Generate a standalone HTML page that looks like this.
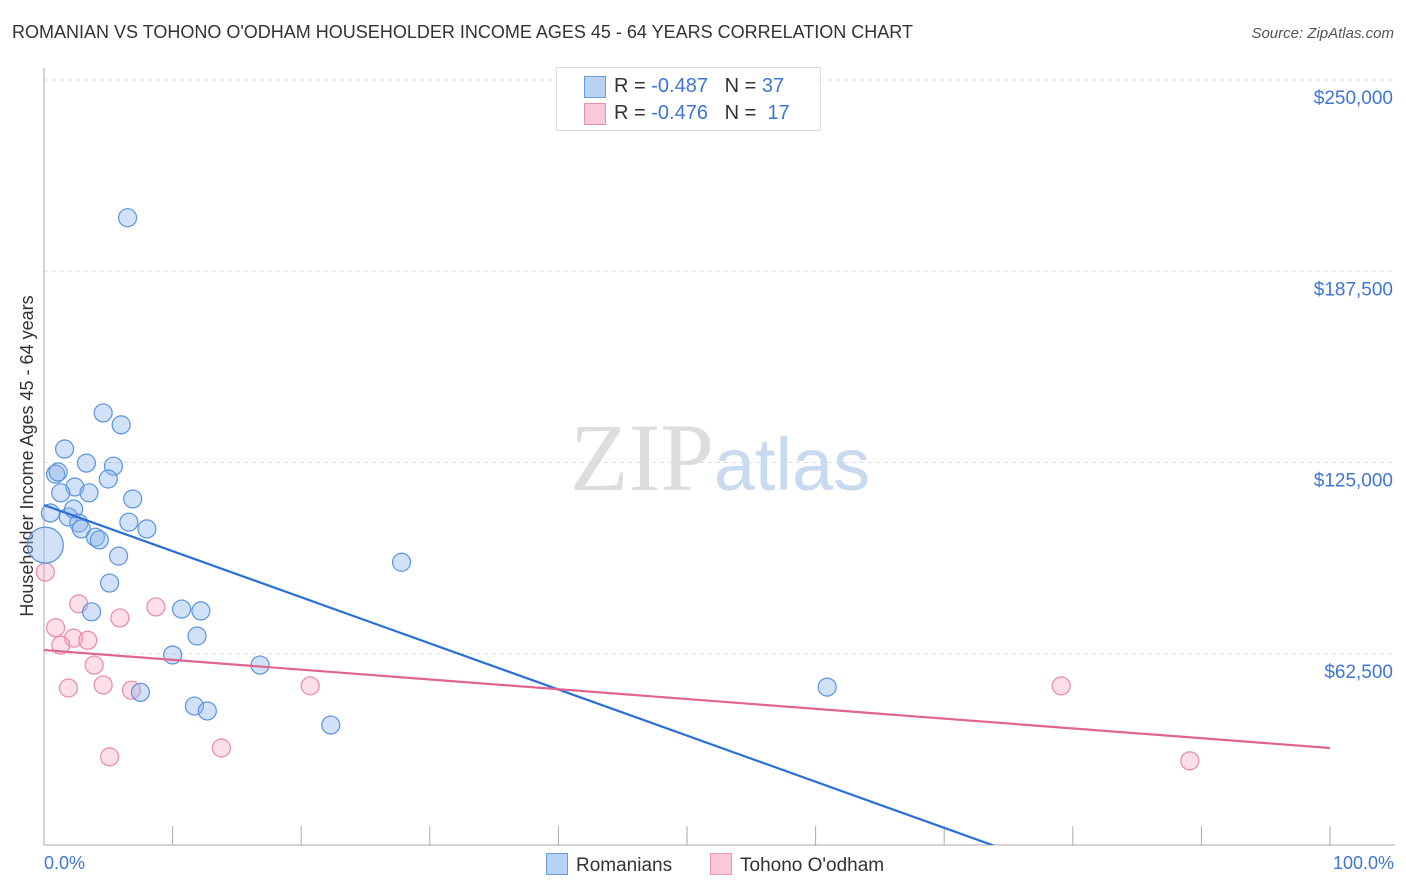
<!DOCTYPE html>
<html><head><meta charset="utf-8"><style>
html,body{margin:0;background:#fff;font-family:"Liberation Sans",sans-serif;width:1406px;height:892px;overflow:hidden;}
#wrap{position:relative;width:1406px;height:892px;overflow:hidden;}
.t{position:absolute;white-space:nowrap;}
</style></head><body>
<div id="wrap">
<div class="t" style="left:12px;top:22px;font-size:18px;color:#333;">ROMANIAN VS TOHONO O'ODHAM HOUSEHOLDER INCOME AGES 45 - 64 YEARS CORRELATION CHART</div>
<div class="t" style="right:12px;top:25px;font-size:15px;color:#555;font-style:italic;">Source: ZipAtlas.com</div>
<svg id="svg" width="1406" height="892" style="position:absolute;left:0;top:0">
<text x="0" y="0" transform="translate(33,456) rotate(-90)" text-anchor="middle" font-size="18" fill="#333" font-family="Liberation Sans, sans-serif">Householder Income Ages 45 - 64 years</text>
</svg>
<div class="t" style="left:44px;top:853px;font-size:18px;color:#3f76d4;">0.0%</div>
<div class="t" style="right:12px;top:853px;font-size:18px;color:#3f76d4;">100.0%</div>
<div style="position:absolute;left:556px;top:67px;width:263px;height:62px;border:1px solid #ddd;background:#fff;font-size:20px;">
 <div style="position:absolute;left:27px;top:8px;width:20px;height:20px;background:#b9d3f5;border:1px solid #6a9be0;"></div>
 <div class="t" style="left:57px;top:7px;color:#333;">R = <span style="color:#3f76d4">-0.487</span> &nbsp; N = <span style="color:#3f76d4">37</span></div>
 <div style="position:absolute;left:27px;top:35px;width:20px;height:20px;background:#f9c9d8;border:1px solid #e892ae;"></div>
 <div class="t" style="left:57px;top:34px;color:#333;">R = <span style="color:#3f76d4">-0.476</span> &nbsp; N = &nbsp;<span style="color:#3f76d4">17</span></div>
</div>
<div style="position:absolute;left:546px;top:853px;font-size:19px;line-height:22px;color:#333;">
 <span style="display:inline-block;width:20px;height:20px;background:#b9d3f5;border:1px solid #6a9be0;vertical-align:-4px;margin-right:8px;"></span>Romanians</div>
<div style="position:absolute;left:710px;top:853px;font-size:19px;line-height:22px;color:#333;">
 <span style="display:inline-block;width:20px;height:20px;background:#f9c9d8;border:1px solid #e892ae;vertical-align:-4px;margin-right:8px;"></span>Tohono O'odham</div>
</div>
<script>
const yTicks=[62500,125000,187500,250000];
const yTickLabels=["$62,500","$125,000","$187,500","$250,000"];
const blueX=[6.5,4.6,6.0,1.6,0.9,1.1,3.3,5.4,5.0,2.4,1.3,3.5,6.9,0.5,1.9,2.3,2.7,6.6,8.0,2.9,4.0,4.3,0.1,5.8,27.8,5.1,3.7,10.7,12.2,11.9,10.0,16.8,7.5,60.9,11.7,12.7,22.3];
const blueY=[205,141.2,137.3,129.4,121.2,121.9,124.8,123.8,119.6,117.0,115.1,115.1,113.1,108.5,107.2,109.8,105.2,105.5,103.3,103.3,100.6,99.7,98,94.4,92.4,85.6,76.2,77.1,76.5,68.3,62.1,58.8,49.9,51.6,45.4,43.8,39.2];
const blueSize=[9,9,9,9,9,9,9,9,9,9,9,9,9,9,9,9,9,9,9,9,9,9,18,9,9,9,9,9,9,9,9,9,9,9,9,9,9];
const pinkX=[0.1,2.7,8.7,0.9,5.9,2.3,3.4,1.3,3.9,1.9,4.6,6.8,20.7,13.8,5.1,79.1,89.1];
const pinkY=[89.2,78.8,77.8,71.0,74.2,67.6,66.9,65.3,58.8,51.3,52.3,50.6,52.0,31.7,28.8,52.0,27.5];
const blueTrend=[111.1,-39.6];
const pinkTrend=[63.7,31.7];
const X0=44,X1=1330,Y0=845,Y1=80;
const sx=p=>X0+(X1-X0)*p/100;
const sy=v=>Y0-(Y0-Y1)*v/250000;
const svg=document.getElementById('svg');
const NS='http://www.w3.org/2000/svg';
function mk(tag,at){const e=document.createElementNS(NS,tag);for(const k in at)e.setAttribute(k,at[k]);svg.appendChild(e);return e;}
const d=document.createElementNS(NS,'defs');d.innerHTML='<clipPath id="cl"><rect x="0" y="0" width="1406" height="845"/></clipPath>';svg.appendChild(d);
yTicks.forEach((v,i)=>{
 const g=mk('line',{x1:X0,x2:1395,y1:sy(v),y2:sy(v),stroke:'#ddd','stroke-dasharray':'4,4'});
 
 
 const t=mk('text',{x:1393,y:sy(v)+24,'text-anchor':'end','font-size':19,fill:'#3f76d4','font-family':'Liberation Sans, sans-serif'});
 t.textContent=yTickLabels[i];
 
 
});
const ax=mk('line',{x1:X0,x2:X0,y1:68,y2:Y0,stroke:'#aaa'});


const bx=mk('line',{x1:X0,x2:1395,y1:Y0,y2:Y0,stroke:'#aaa'});


for(let i=0;i<=10;i++){
 const tk=mk('line',{x1:sx(i*10),x2:sx(i*10),y1:826,y2:Y0,stroke:'#aaa'});
 
 
}
const wm=mk('text',{x:720,y:490,'text-anchor':'middle','font-size':96,fill:'#ddd','font-family':'Liberation Serif, serif'});
wm.innerHTML='ZIP<tspan fill="#c9d9f0" font-family="Liberation Sans, sans-serif" font-size="74">atlas</tspan>';


function pts(xs,ys,fill,stroke,name,sizes){
 xs.forEach((x,i)=>{const c=mk('circle',{cx:sx(x),cy:sy(ys[i]*1000),r:sizes?sizes[i]:9,fill:fill,stroke:stroke,'stroke-width':1.2});
 
 });
}
pts(pinkX,pinkY,'rgba(244,160,185,0.35)','#e88aa8','pink-point');
pts(blueX,blueY,'rgba(140,180,235,0.4)','#5b93dd','blue-point',blueSize);
const bl=mk('line',{x1:sx(0),y1:sy(blueTrend[0]*1000),x2:sx(100),y2:sy(blueTrend[1]*1000),stroke:'#2a6fd6','stroke-width':2.2,'clip-path':'url(#cl)'});


const pl=mk('line',{x1:sx(0),y1:sy(pinkTrend[0]*1000),x2:sx(100),y2:sy(pinkTrend[1]*1000),stroke:'#e0648f','stroke-width':2.2});


</script>
</body></html>
